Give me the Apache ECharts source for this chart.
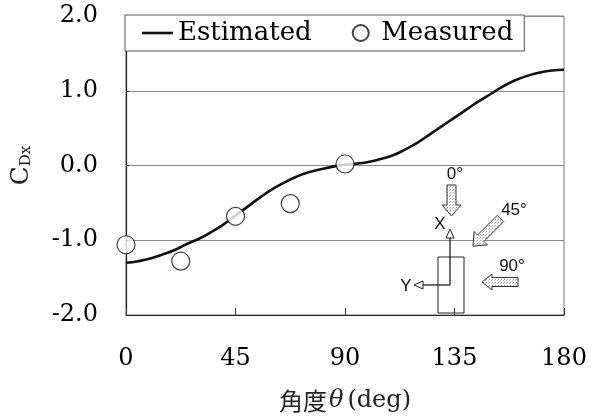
<!DOCTYPE html>
<html>
<head>
<meta charset="utf-8">
<script src="https://cdn.jsdelivr.net/npm/echarts@6/dist/echarts.min.js"></script>
<style>html,body{margin:0;padding:0;background:#fff;}#c{width:597px;height:416px;}</style>
</head>
<body>
<div id="c"></div>
<script>
// ---- data ----
const estAngles = [0,5,10,15,20,25,30,35,40,45,50,55,60,65,70,75,80,85,90,95,100,105,110,115,120,125,130,135,140,145,150,155,160,165,170,175,180];
const estValues = [-1.30,-1.28,-1.245,-1.19,-1.13,-1.05,-0.98,-0.89,-0.79,-0.67,-0.55,-0.43,-0.32,-0.23,-0.15,-0.09,-0.05,-0.015,0.01,0.025,0.05,0.09,0.14,0.22,0.31,0.42,0.53,0.64,0.75,0.86,0.96,1.06,1.14,1.20,1.245,1.27,1.28];
const measAngles = [0,22.5,45,67.5,90];
const measValues = [-1.06,-1.28,-0.68,-0.51,0.02];
const xTicks = [0,45,90,135,180];
const yTicks = [-2.0,-1.0,0.0,1.0,2.0];
const seriesNames = ['Estimated','Measured'];

const chart = echarts.init(document.getElementById('c'));

// dotted pattern for inset arrows
const pc = document.createElement('canvas');
pc.width = 3; pc.height = 3;
const pctx = pc.getContext('2d');
pctx.fillStyle = '#fff'; pctx.fillRect(0,0,3,3);
pctx.fillStyle = '#999'; pctx.fillRect(0,0,1,1); pctx.fillStyle='#bbb'; pctx.fillRect(2,1,1,1);

function arrow(tipX, tipY, dx, dy, len, sh, hh, hl) {
  const nx = -dy, ny = dx;
  const bx = tipX - dx*hl, by = tipY - dy*hl;
  const tx = tipX - dx*len, ty = tipY - dy*len;
  return [
    [tx + nx*sh, ty + ny*sh],
    [bx + nx*sh, by + ny*sh],
    [bx + nx*hh, by + ny*hh],
    [tipX, tipY],
    [bx - nx*hh, by - ny*hh],
    [bx - nx*sh, by - ny*sh],
    [tx - nx*sh, ty - ny*sh]
  ];
}
const s2 = Math.SQRT1_2;
const arrowStyle = {fill: {image: pc, repeat: 'repeat'}, stroke: '#333', lineWidth: 1};
const insetFont = '17px "Liberation Sans", Arial, sans-serif';

const graphics = [
  {type:'polygon', shape:{points: arrow(451.5,216,0,1,31,4.5,9.5,11)}, style: arrowStyle, z: 10},
  {type:'polygon', shape:{points: arrow(473,246,-s2,s2,39,4.5,9.5,11)}, style: arrowStyle, z: 10},
  {type:'polygon', shape:{points: arrow(482,282,-1,0,36,4.5,8,10)}, style: arrowStyle, z: 10},
  {type:'rect', shape:{x:438,y:257,width:26,height:56}, style:{fill:'none',stroke:'#222',lineWidth:1}, z:10},
  {type:'line', shape:{x1:450,y1:285,x2:450,y2:238}, style:{stroke:'#222',lineWidth:1.3}, z:10},
  {type:'polygon', shape:{points:[[450,229],[454,238],[446,238]]}, style:{fill:'#fff',stroke:'#222',lineWidth:1}, z:10},
  {type:'line', shape:{x1:450,y1:285,x2:423,y2:285}, style:{stroke:'#222',lineWidth:1.3}, z:10},
  {type:'polygon', shape:{points:[[414,285],[423,281],[423,289]]}, style:{fill:'#fff',stroke:'#222',lineWidth:1}, z:10},
  {type:'text', style:{text:'0°', x:455, y:174, font: insetFont, fill:'#111', align:'center', verticalAlign:'middle'}, z:10},
  {type:'text', style:{text:'45°', x:514, y:210, font: insetFont, fill:'#111', align:'center', verticalAlign:'middle'}, z:10},
  {type:'text', style:{text:'90°', x:512, y:266, font: insetFont, fill:'#111', align:'center', verticalAlign:'middle'}, z:10},
  {type:'text', style:{text:'X', x:440, y:224, font: insetFont, fill:'#111', align:'center', verticalAlign:'middle'}, z:10},
  {type:'text', style:{text:'Y', x:406, y:286, font: insetFont, fill:'#111', align:'center', verticalAlign:'middle'}, z:10}
];

const serif = '"DejaVu Serif", "Liberation Serif", serif';

chart.setOption({
  animation: false,
  backgroundColor: '#fff',
  grid: {left:126, right:33, top:16, bottom:101, show:true, borderColor:'#777', borderWidth:1,
         containLabel:false, outerBoundsMode:'none'},
  legend: {
    left:125, top:15,
    padding:[5,11,5,17],
    backgroundColor:'#fff', borderColor:'#555', borderWidth:1,
    itemWidth:31, itemHeight:16, itemGap:40,
    textStyle:{fontFamily: serif, fontSize:26, color:'#000'},
    data:[
      {name: seriesNames[0], icon:'path://M0,0 L31,0 L31,2.6 L0,2.6 Z', itemStyle:{color:'#111'}},
      {name: seriesNames[1], icon:'circle'}
    ]
  },
  xAxis: {
    type:'value', min:xTicks[0], max:xTicks[xTicks.length-1], interval:45,
    name:'{cjk|角度}{th|θ}{lat|(deg)}', nameLocation:'middle', nameGap:74,
    nameTextStyle:{
      rich:{
        cjk:{fontFamily:'"Noto Sans CJK JP"', fontSize:24, color:'#222'},
        th:{fontFamily:'"DejaVu Serif"', fontStyle:'italic', fontSize:24, color:'#222', padding:[0,4,0,2]},
        lat:{fontFamily: serif, fontSize:24, color:'#222'}
      }
    },
    axisLine:{show:true, onZero:false, lineStyle:{color:'#222', width:1.2}},
    axisTick:{show:true, inside:true, length:7, lineStyle:{color:'#333'}},
    axisLabel:{fontFamily: serif, fontSize:24, color:'#000', margin:32,
      formatter: v => xTicks.indexOf(v) >= 0 ? String(v) : ''},
    splitLine:{show:false}
  },
  yAxis: {
    type:'value', min:yTicks[0], max:yTicks[yTicks.length-1], interval:1,
    name:'{c|C}{s|Dx}', nameLocation:'middle', nameGap:92, nameRotate:90,
    nameTextStyle:{
      rich:{
        c:{fontFamily: serif, fontSize:25, color:'#222', lineHeight:25},
        s:{fontFamily: serif, fontSize:15, color:'#222', verticalAlign:'bottom', lineHeight:25, padding:[10,0,0,0]}
      }
    },
    axisLine:{show:true, onZero:false, lineStyle:{color:'#222', width:1.2}},
    axisTick:{show:true, inside:true, length:3, lineStyle:{color:'#333'}},
    axisLabel:{fontFamily: serif, fontSize:24, color:'#000', margin:28,
      formatter: v => v.toFixed(1)},
    splitLine:{show:true, lineStyle:{color:'#888', width:1}}
  },
  series: [
    {
      name: seriesNames[0], type:'line', smooth:true, symbol:'none', showSymbol:false,
      lineStyle:{color:'#111', width:2.6}, itemStyle:{color:'#111'},
      data: estAngles.map((a,i)=>[a, estValues[i]]), z:3
    },
    {
      name: seriesNames[1], type:'scatter', symbol:'circle', symbolSize:18, clip:false,
      itemStyle:{color:'#fff', borderColor:'#111', borderWidth:1.2},
      data: measAngles.map((a,i)=>[a, measValues[i]]), z:5
    }
  ],
  graphic: graphics
});
</script>
</body>
</html>
